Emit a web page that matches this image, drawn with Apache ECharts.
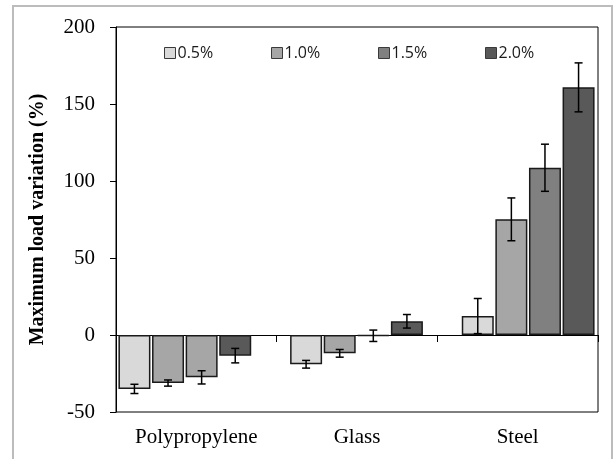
<!DOCTYPE html>
<html>
<head>
<meta charset="utf-8">
<script src="https://cdn.jsdelivr.net/npm/echarts@6/dist/echarts.min.js"></script>
<style>
html,body{margin:0;padding:0;background:#fff;}
#chart{width:614px;height:459px;}
</style>
</head>
<body>
<div id="chart"></div>
<script>
const categories = ['Polypropylene', 'Glass', 'Steel'];
const seriesNames = ['0.5%', '1.0%', '1.5%', '2.0%'];
const v05 = [-35.0, -19.0, 12.3];
const v10 = [-31.2, -11.9, 75.1];
const v15 = [-27.5, -0.5, 108.6];
const v20 = [-13.4, 8.9, 160.8];
const e05 = [3.0, 2.5, 11.4];
const e10 = [2.0, 2.5, 13.9];
const e15 = [4.3, 3.7, 15.3];
const e20 = [4.7, 4.4, 15.9];
const yTicks = [-50, 0, 50, 100, 150, 200];

const values = [v05, v10, v15, v20];
const errors = [e05, e10, e15, e20];
const colors = ['#d9d9d9', '#a6a6a6', '#808080', '#595959'];
const BAR_W = 32;
const BAR_GAP_PX = 1.6;

const chart = echarts.init(document.getElementById('chart'), null, {renderer: 'canvas'});

const series = [];
values.forEach((vals, si) => {
  series.push({
    name: seriesNames[si],
    type: 'bar',
    xAxisIndex: 2,
    yAxisIndex: 1,
    barWidth: BAR_W,
    barGap: (BAR_GAP_PX / BAR_W * 100) + '%',
    itemStyle: {color: colors[si], borderColor: '#1a1a1a', borderWidth: 1.5},
    data: vals.map((v, ci) => {
      // the Polypropylene 1.5% bar is drawn in the lighter shade in the original
      if (si === 2 && ci === 0) return {value: v, itemStyle: {color: colors[1]}};
      return v;
    }),
    z: 2
  });
});
values.forEach((vals, si) => {
  series.push({
    name: seriesNames[si] + ' err',
    type: 'custom',
    xAxisIndex: 2,
    yAxisIndex: 1,
    data: vals.map((v, ci) => [ci, v, errors[si][ci]]),
    encode: {x: 0, y: 1},
    z: 5,
    silent: true,
    renderItem: function (params, api) {
      const ci = api.value(0), v = api.value(1), e = api.value(2);
      const off = (si - 1.5) * (BAR_W + BAR_GAP_PX);
      const top = api.coord([ci, v + e]);
      const bot = api.coord([ci, v - e]);
      const x = top[0] + off;
      const cap = 4;
      const st = {stroke: '#000', lineWidth: 1.5};
      return {
        type: 'group',
        children: [
          {type: 'line', shape: {x1: x, y1: top[1], x2: x, y2: bot[1]}, style: st},
          {type: 'line', shape: {x1: x - cap, y1: top[1], x2: x + cap, y2: top[1]}, style: st},
          {type: 'line', shape: {x1: x - cap, y1: bot[1], x2: x + cap, y2: bot[1]}, style: st}
        ]
      };
    }
  });
});

const legendLefts = [164, 271, 378, 485];
const legends = seriesNames.map((n, i) => ({
  data: [n],
  left: legendLefts[i],
  top: 45,
  padding: 0,
  itemWidth: 11,
  itemHeight: 11,
  icon: 'rect',
  selectedMode: false,
  itemStyle: {borderColor: '#3a3a3a', borderWidth: 1},
  textStyle: {fontFamily: 'Open Sans', fontSize: 16, color: '#1a1a1a', lineHeight: 16, padding: [0, 0, 0, -3]}
}));

const option = {
  backgroundColor: '#fff',
  animation: false,
  graphic: [{
    type: 'rect',
    shape: {x: 13, y: 6, width: 599, height: 470},
    style: {fill: 'none', stroke: '#bcbcbc', lineWidth: 2},
    silent: true,
    z: -1
  }],
  legend: legends,
  grid: [
    {left: 116, top: 27, width: 482, height: 385, show: true, borderColor: '#000', borderWidth: 1, backgroundColor: 'transparent'},
    {left: 99, top: 27, width: 515.5, height: 385}
  ],
  xAxis: [
    {
      gridIndex: 0, type: 'category', data: categories, position: 'bottom',
      axisLine: {show: false, onZero: false}, axisTick: {show: false},
      axisLabel: {fontFamily: 'Liberation Serif', fontSize: 21, color: '#000', margin: 15}
    },
    {
      gridIndex: 0, type: 'category', data: categories, position: 'bottom',
      axisLine: {show: true, onZero: true, lineStyle: {color: '#000', width: 1}},
      axisTick: {show: true, length: 7, lineStyle: {color: '#000'}},
      axisLabel: {show: false}
    },
    {gridIndex: 1, type: 'category', data: categories, show: false}
  ],
  yAxis: [
    {
      gridIndex: 0, type: 'value', min: yTicks[0], max: yTicks[yTicks.length - 1], interval: 50,
      axisLine: {show: true, lineStyle: {color: '#000', width: 1}},
      axisTick: {show: true, length: 6, lineStyle: {color: '#000'}},
      splitLine: {show: false},
      axisLabel: {fontFamily: 'Liberation Serif', fontSize: 21, color: '#000', margin: 21},
      name: 'Maximum load variation (%)',
      nameLocation: 'middle',
      nameGap: 68,
      nameTextStyle: {fontFamily: 'Liberation Serif', fontSize: 20, fontWeight: 'bold', color: '#000'}
    },
    {gridIndex: 1, type: 'value', min: yTicks[0], max: yTicks[yTicks.length - 1], interval: 50, show: false}
  ],
  series: series
};
chart.setOption(option);
</script>
</body>
</html>
